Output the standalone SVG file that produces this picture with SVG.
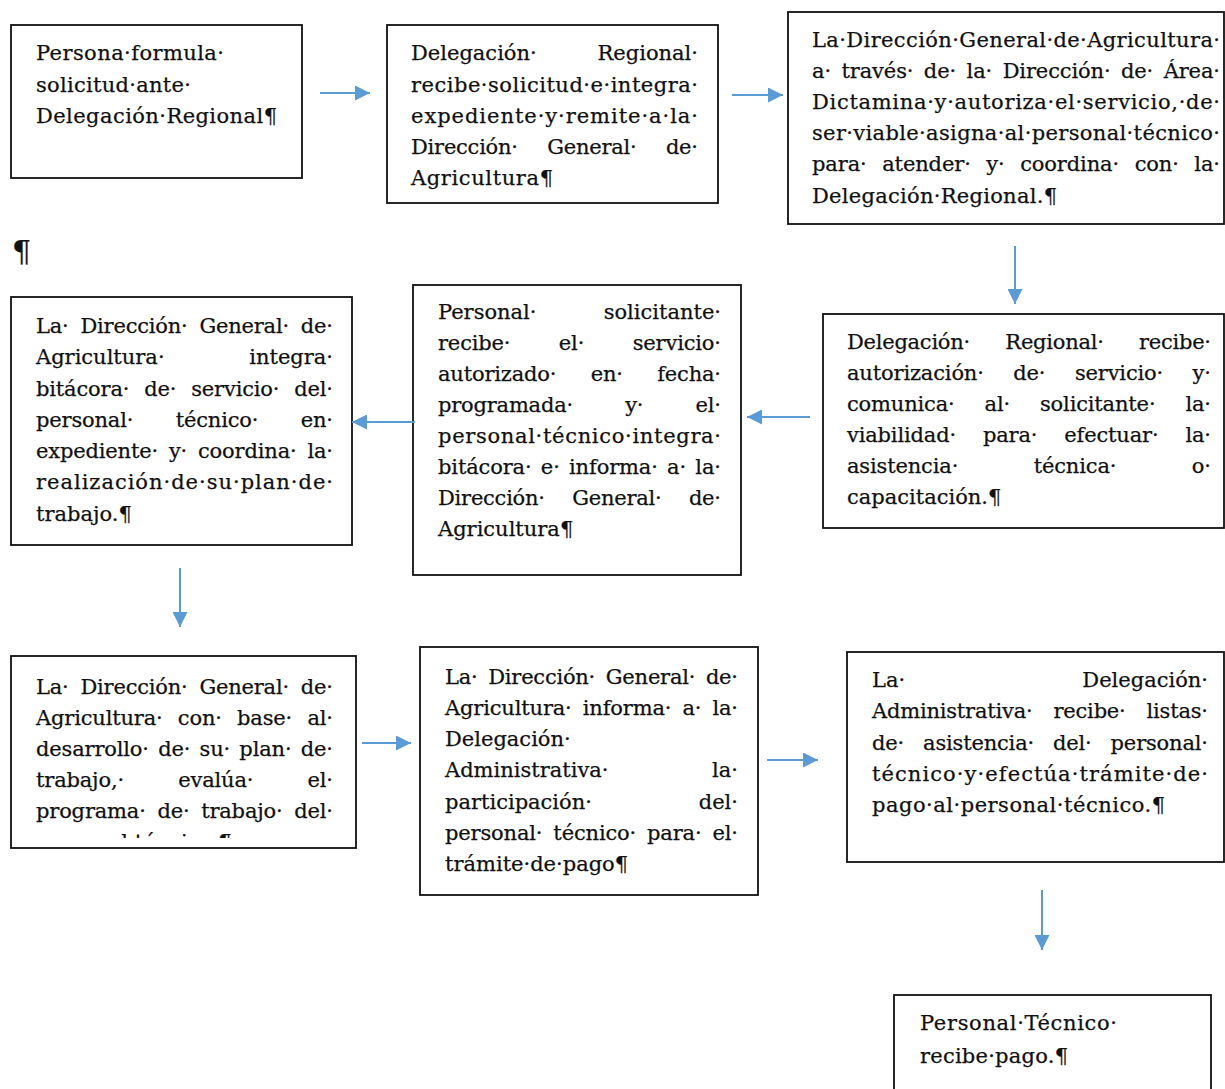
<svg xmlns="http://www.w3.org/2000/svg" width="1225" height="1089" viewBox="0 0 1225 1089">
<defs>
<style>
.box{fill:#fff;stroke:#111;stroke-width:1.8}
.t{font-family:"DejaVu Serif","Liberation Serif",serif;font-size:21px;fill:#111;stroke:#111;stroke-width:0.25}
.e{text-anchor:end}
.c{stroke:#5B9BD5;stroke-width:2;fill:none}
</style>
<marker id="ah" viewBox="0 0 10 10" refX="10" refY="5" markerWidth="17" markerHeight="15" markerUnits="userSpaceOnUse" orient="auto">
<path d="M0,0 L10,5 L0,10 Z" fill="#5B9BD5"/>
</marker>
<clipPath id="clip7"><rect x="12" y="656" width="343" height="182"/></clipPath>
</defs>
<rect width="1225" height="1089" fill="#fff"/>
<text class="t" x="12" y="262" style="font-size:30px">¶</text>

<g id="n1">
<rect class="box" x="11" y="25" width="291" height="153"/>
<text class="t" x="36" y="60" textLength="188" lengthAdjust="spacing">Persona·formula·</text>
<text class="t" x="36" y="92" textLength="155" lengthAdjust="spacing">solicitud·ante·</text>
<text class="t" x="36" y="123" textLength="241" lengthAdjust="spacing">Delegación·Regional¶</text>
</g>

<g id="n2">
<rect class="box" x="387" y="25" width="331" height="178"/>
<text class="t" x="411" y="60">Delegación·</text>
<text class="t e" x="698" y="60">Regional·</text>
<text class="t" x="411" y="92" textLength="287" lengthAdjust="spacing">recibe·solicitud·e·integra·</text>
<text class="t" x="411" y="123" textLength="287" lengthAdjust="spacing">expediente·y·remite·a·la·</text>
<text class="t" x="411" y="154" word-spacing="23" textLength="287" lengthAdjust="spacing">Dirección· General· de·</text>
<text class="t" x="411" y="185" textLength="142" lengthAdjust="spacing">Agricultura¶</text>
</g>

<g id="n3">
<rect class="box" x="788" y="12" width="436" height="212"/>
<text class="t" x="812" y="47" textLength="408" lengthAdjust="spacing">La·Dirección·General·de·Agricultura·</text>
<text class="t" x="812" y="78" word-spacing="4" textLength="408" lengthAdjust="spacing">a· través· de· la· Dirección· de· Área·</text>
<text class="t" x="812" y="109" textLength="408" lengthAdjust="spacing">Dictamina·y·autoriza·el·servicio,·de·</text>
<text class="t" x="812" y="140" textLength="408" lengthAdjust="spacing">ser·viable·asigna·al·personal·técnico·</text>
<text class="t" x="812" y="171" word-spacing="9" textLength="408" lengthAdjust="spacing">para· atender· y· coordina· con· la·</text>
<text class="t" x="812" y="203" textLength="245" lengthAdjust="spacing">Delegación·Regional.¶</text>
</g>

<g id="n4">
<rect class="box" x="11" y="297" width="341" height="248"/>
<text class="t" x="36" y="333" word-spacing="5.5" textLength="297" lengthAdjust="spacing">La· Dirección· General· de·</text>
<text class="t" x="36" y="364">Agricultura·</text>
<text class="t e" x="333" y="364">integra·</text>
<text class="t" x="36" y="396" word-spacing="8.4" textLength="297" lengthAdjust="spacing">bitácora· de· servicio· del·</text>
<text class="t" x="36" y="427" word-spacing="36" textLength="297" lengthAdjust="spacing">personal· técnico· en·</text>
<text class="t" x="36" y="458" word-spacing="4.4" textLength="297" lengthAdjust="spacing">expediente· y· coordina· la·</text>
<text class="t" x="36" y="489" textLength="297" lengthAdjust="spacing">realización·de·su·plan·de·</text>
<text class="t" x="36" y="521">trabajo.¶</text>
</g>

<g id="n5">
<rect class="box" x="413" y="285" width="328" height="290"/>
<text class="t" x="438" y="319">Personal·</text>
<text class="t e" x="721" y="319">solicitante·</text>
<text class="t" x="438" y="350" word-spacing="42" textLength="283" lengthAdjust="spacing">recibe· el· servicio·</text>
<text class="t" x="438" y="381" word-spacing="28" textLength="283" lengthAdjust="spacing">autorizado· en· fecha·</text>
<text class="t" x="438" y="412" word-spacing="45.8" textLength="283" lengthAdjust="spacing">programada· y· el·</text>
<text class="t" x="438" y="443" textLength="283" lengthAdjust="spacing">personal·técnico·integra·</text>
<text class="t" x="438" y="474" word-spacing="2.8" textLength="283" lengthAdjust="spacing">bitácora· e· informa· a· la·</text>
<text class="t" x="438" y="505" word-spacing="21" textLength="283" lengthAdjust="spacing">Dirección· General· de·</text>
<text class="t" x="438" y="536">Agricultura¶</text>
</g>

<g id="n6">
<rect class="box" x="823" y="314" width="401" height="214"/>
<text class="t" x="847" y="349" word-spacing="29" textLength="364" lengthAdjust="spacing">Delegación· Regional· recibe·</text>
<text class="t" x="847" y="380" word-spacing="23" textLength="364" lengthAdjust="spacing">autorización· de· servicio· y·</text>
<text class="t" x="847" y="411" word-spacing="23.5" textLength="364" lengthAdjust="spacing">comunica· al· solicitante· la·</text>
<text class="t" x="847" y="442" word-spacing="20.5" textLength="364" lengthAdjust="spacing">viabilidad· para· efectuar· la·</text>
<text class="t" x="847" y="473" word-spacing="69" textLength="364" lengthAdjust="spacing">asistencia· técnica· o·</text>
<text class="t" x="847" y="504">capacitación.¶</text>
</g>

<g id="n7">
<rect class="box" x="11" y="656" width="345" height="192"/>
<text class="t" x="36" y="694" word-spacing="5.5" textLength="297" lengthAdjust="spacing">La· Dirección· General· de·</text>
<text class="t" x="36" y="725" word-spacing="8.8" textLength="297" lengthAdjust="spacing">Agricultura· con· base· al·</text>
<text class="t" x="36" y="756" word-spacing="2.8" textLength="297" lengthAdjust="spacing">desarrollo· de· su· plan· de·</text>
<text class="t" x="36" y="787" word-spacing="47.8" textLength="297" lengthAdjust="spacing">trabajo,· evalúa· el·</text>
<text class="t" x="36" y="818" word-spacing="5.2" textLength="297" lengthAdjust="spacing">programa· de· trabajo· del·</text>
<g clip-path="url(#clip7)"><text class="t" x="36" y="849">personal·técnico.¶</text></g>
</g>

<g id="n8">
<rect class="box" x="420" y="647" width="338" height="248"/>
<text class="t" x="445" y="684" word-spacing="4.3" textLength="293" lengthAdjust="spacing">La· Dirección· General· de·</text>
<text class="t" x="445" y="715" word-spacing="4.6" textLength="293" lengthAdjust="spacing">Agricultura· informa· a· la·</text>
<text class="t" x="445" y="746">Delegación·</text>
<text class="t" x="445" y="777">Administrativa·</text>
<text class="t e" x="738" y="777">la·</text>
<text class="t" x="445" y="809">participación·</text>
<text class="t e" x="738" y="809">del·</text>
<text class="t" x="445" y="840" word-spacing="4.5" textLength="293" lengthAdjust="spacing">personal· técnico· para· el·</text>
<text class="t" x="445" y="871">trámite·de·pago¶</text>
</g>

<g id="n9">
<rect class="box" x="847" y="652" width="377" height="210"/>
<text class="t" x="872" y="687">La·</text>
<text class="t e" x="1208" y="687">Delegación·</text>
<text class="t" x="872" y="718" word-spacing="14.5" textLength="336" lengthAdjust="spacing">Administrativa· recibe· listas·</text>
<text class="t" x="872" y="750" word-spacing="12.5" textLength="336" lengthAdjust="spacing">de· asistencia· del· personal·</text>
<text class="t" x="872" y="781" textLength="336" lengthAdjust="spacing">técnico·y·efectúa·trámite·de·</text>
<text class="t" x="872" y="812" textLength="293" lengthAdjust="spacing">pago·al·personal·técnico.¶</text>
</g>

<g id="n10">
<rect class="box" x="894" y="995" width="317" height="120"/>
<text class="t" x="920" y="1030" textLength="197" lengthAdjust="spacing">Personal·Técnico·</text>
<text class="t" x="920" y="1063" textLength="148" lengthAdjust="spacing">recibe·pago.¶</text>
</g>

<g id="connectors">
<path class="c" d="M320 93 L370 93" marker-end="url(#ah)"/>
<path class="c" d="M732 95 L783 95" marker-end="url(#ah)"/>
<path class="c" d="M1015 246 L1015 304" marker-end="url(#ah)"/>
<path class="c" d="M810 417 L747 417" marker-end="url(#ah)"/>
<path class="c" d="M415 422 L352 422" marker-end="url(#ah)"/>
<path class="c" d="M180 568 L180 627" marker-end="url(#ah)"/>
<path class="c" d="M362 743 L411 743" marker-end="url(#ah)"/>
<path class="c" d="M767 760 L818 760" marker-end="url(#ah)"/>
<path class="c" d="M1042 890 L1042 950" marker-end="url(#ah)"/>
</g>
</svg>
